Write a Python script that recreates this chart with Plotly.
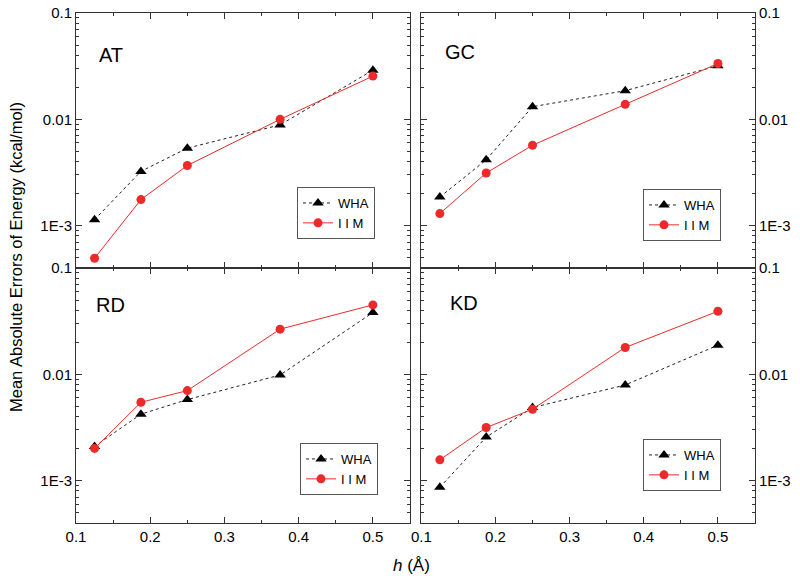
import plotly.graph_objects as go

h = [0.125, 0.1875, 0.25, 0.375, 0.5]

at_wha = [1.14e-3, 3.24e-3, 5.36e-3, 8.87e-3, 0.0290]
at_iim = [4.94e-4, 1.76e-3, 3.68e-3, 0.0100, 0.0255]
gc_wha = [1.86e-3, 4.16e-3, 0.01315, 0.0186, 0.0319]
gc_iim = [1.30e-3, 3.13e-3, 5.71e-3, 0.01384, 0.0335]
rd_wha = [2.10e-3, 4.22e-3, 5.79e-3, 9.86e-3, 0.0381]
rd_iim = [2.01e-3, 5.46e-3, 7.03e-3, 0.0266, 0.0450]
kd_wha = [8.66e-4, 2.57e-3, 4.87e-3, 7.94e-3, 0.0188]
kd_iim = [1.57e-3, 3.16e-3, 4.70e-3, 0.0179, 0.0392]

panel_names = ["AT", "GC", "RD", "KD"]
series_names = ["WHA", "I I M"]
ytick_vals = [0.001, 0.01, 0.1]
ytick_text = ["1E-3", "0.01", "0.1"]
xtick_vals = [0.1, 0.2, 0.3, 0.4, 0.5]
xtick_text = ["0.1", "0.2", "0.3", "0.4", "0.5"]

FONT = "Liberation Sans, Arial, sans-serif"
RED = "#ec2a2a"

W, H = 800, 580
# plot area in page pixels
PL, PR, PT, PB = 76, 755, 13, 523
ML, MT = PL, PT
MR, MB = W - PR, H - PB
PW = W - ML - MR
PH = H - MT - MB


def px_x(x):
    return (x - PL) / PW


def px_y(y):
    return (PB - y) / PH


fig = go.Figure()

panels = [
    ("x3", "y3", "legend", at_wha, at_iim),
    ("x4", "y4", "legend2", gc_wha, gc_iim),
    ("x", "y", "legend3", rd_wha, rd_iim),
    ("x2", "y2", "legend4", kd_wha, kd_iim),
]

for xa, ya, lg, wha, iim in panels:
    fig.add_trace(go.Scatter(
        x=h, y=wha, xaxis=xa, yaxis=ya, legend=lg, name=series_names[0],
        mode="lines+markers",
        line=dict(color="#222222", width=1, dash="dot"),
        marker=dict(symbol="triangle-up", size=10, color="black"),
    ))
    fig.add_trace(go.Scatter(
        x=h, y=iim, xaxis=xa, yaxis=ya, legend=lg, name=series_names[1],
        mode="lines+markers",
        line=dict(color=RED, width=1),
        marker=dict(symbol="circle", size=9, color=RED),
    ))

left_dom = [0.0, px_x(410)]
right_dom = [px_x(421.3), 1.0]
bot_dom = [0.0, 0.5]
top_dom = [0.5, 1.0]


def xax(dom, anchor, labels):
    return dict(
        domain=dom, anchor=anchor, range=[0.1, 0.55], automargin=False,
        tickvals=xtick_vals, ticktext=xtick_text, showticklabels=labels,
        ticklabeloverflow="allow",
        ticks="inside", ticklen=6, tickcolor="#333", tickwidth=1,
        minor=dict(ticks="inside", ticklen=3, tickcolor="#333", dtick=0.05, tick0=0.1),
        showline=True, linecolor="#333", linewidth=1, mirror="allticks",
        showgrid=False, zeroline=False,
        tickfont=dict(family=FONT, size=15, color="black"),
    )


def yax(dom, anchor, side):
    return dict(
        domain=dom, anchor=anchor, type="log", range=[-3.398, -1.0], automargin=False,
        tickvals=ytick_vals, ticktext=ytick_text, side=side,
        ticklabeloverflow="allow",
        ticks="inside", ticklen=6, tickcolor="#333", tickwidth=1,
        minor=dict(ticks="inside", ticklen=3, tickcolor="#333", dtick="D1"),
        showline=True, linecolor="#333", linewidth=1, mirror="allticks",
        showgrid=False, zeroline=False,
        tickfont=dict(family=FONT, size=15, color="black"),
    )


fig.update_layout(
    xaxis=xax(left_dom, "y", True),
    yaxis=yax(bot_dom, "x", "left"),
    xaxis2=xax(right_dom, "y2", True),
    yaxis2=yax(bot_dom, "x2", "right"),
    xaxis3=xax(left_dom, "y3", False),
    yaxis3=yax(top_dom, "x3", "left"),
    xaxis4=xax(right_dom, "y4", False),
    yaxis4=yax(top_dom, "x4", "right"),
)


def legend_at(cx, cy):
    return dict(
        x=px_x(cx), y=px_y(cy), xanchor="center", yanchor="middle",
        bgcolor="white", bordercolor="#555", borderwidth=1,
        font=dict(family=FONT, size=13, color="black"),
        tracegroupgap=0,
    )


fig.update_layout(
    legend=legend_at(336, 213),
    legend2=legend_at(682, 215),
    legend3=legend_at(339, 469),
    legend4=legend_at(682, 465),
)

label_pos = [(97, 55), (443, 52), (94, 305), (448, 303)]
annotations = []
for name, (lx, ly) in zip(panel_names, label_pos):
    annotations.append(dict(
        text=name, xref="paper", yref="paper", x=px_x(lx), y=px_y(ly),
        xanchor="left", yanchor="middle", showarrow=False,
        font=dict(family=FONT, size=20, color="black"),
    ))

annotations.append(dict(
    text="<i>h</i> (Å)", xref="paper", yref="paper",
    x=px_x(411), y=px_y(565), xanchor="center", yanchor="middle",
    showarrow=False, font=dict(family=FONT, size=17, color="black"),
))
annotations.append(dict(
    text="Mean Absolute Errors of Energy (kcal/mol)", xref="paper", yref="paper",
    x=px_x(16), y=px_y(257), xanchor="center", yanchor="middle",
    textangle=-90, showarrow=False, font=dict(family=FONT, size=16.5, color="black"),
))

fig.update_layout(
    width=W, height=H,
    margin=dict(l=ML, r=MR, t=MT, b=MB, pad=0, autoexpand=False),
    paper_bgcolor="white", plot_bgcolor="white",
    annotations=annotations,
    showlegend=True,
    hovermode=False,
)

fig.write_html(
    "out.html",
    config={"displayModeBar": False, "staticPlot": True},
    post_script="document.body.style.margin='0';document.body.style.overflow='hidden';",
)
